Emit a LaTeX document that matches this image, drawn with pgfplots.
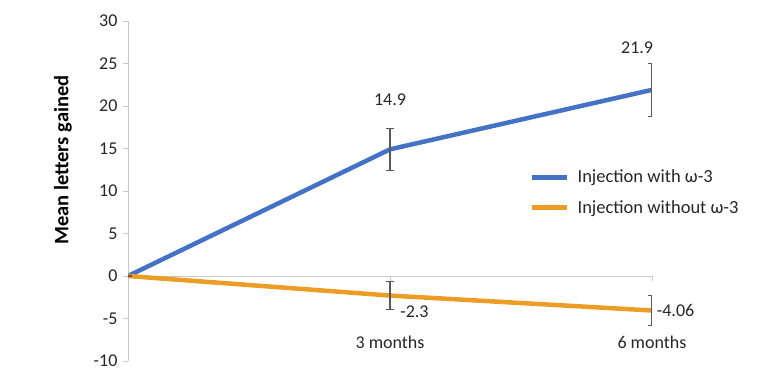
\documentclass[border=0pt]{standalone}
\usepackage{fontspec}
\setmainfont{Carlito}
\usepackage{pgfplots}
\pgfplotsset{compat=1.18}
\definecolor{myblue}{RGB}{68,114,196}
\definecolor{myorange}{RGB}{237,157,38}
\definecolor{axgray}{RGB}{200,200,200}
\definecolor{txt}{RGB}{38,38,38}
\definecolor{errgray}{RGB}{89,89,89}
\begin{document}
\begin{tikzpicture}
\begin{axis}[
  scale only axis, width=524pt, height=340pt,
  xmin=0, xmax=6, ymin=-10, ymax=30,
  axis x line=middle, axis y line=left,
  axis line style={-, axgray, line width=0.9pt},
  tick align=outside, major tick length=5pt,
  tick style={axgray, line width=0.9pt},
  ytick={-10,-5,...,30},
  xtick={3,6}, xticklabels={3 months,6 months},
  xticklabel style={yshift=-51pt},
  yticklabel style={xshift=-2pt},
  ticklabel style={font=\fontsize{18}{21}\selectfont, text=txt},
  /pgf/number format/assume math mode=true,
  ylabel={Mean letters gained},
  every axis y label/.style={at={(rel axis cs:-0.124,0.591)}, rotate=90, anchor=center,
    font=\fontsize{20.5}{24}\selectfont\bfseries, text=black},
  clip mode=individual,
  legend style={draw=none, fill=none, at={(rel axis cs:0.767,0.568)}, anchor=north west,
    font=\fontsize{18.5}{22}\selectfont, text=txt, row sep=12pt, inner sep=0pt},
  legend cell align=left,
  legend image code/.code={\draw[#1,line width=4.5pt] (0pt,0pt) -- (35pt,0pt);
    \path (41pt,0pt);},
]
\addplot[myblue, line width=4.5pt, no markers,
  error bars/.cd, y dir=both, y explicit,
  error bar style={errgray, line width=1.1pt},
  error mark options={rotate=90, mark size=4pt, errgray, line width=1.1pt}]
  coordinates {(0,0) +- (0,0) (3,14.9) +- (0,2.5) (6,21.9) +- (0,3.1)};
\addlegendentry{Injection with ω-3}
\addplot[myorange, line width=4.5pt, no markers,
  error bars/.cd, y dir=both, y explicit,
  error bar style={errgray, line width=1.1pt},
  error mark options={rotate=90, mark size=4pt, errgray, line width=1.1pt}]
  coordinates {(0,0) +- (0,0) (3,-2.3) +- (0,1.6) (6,-4.06) +- (0,1.8)};
\addlegendentry{Injection without ω-3}
\node[font=\fontsize{18}{21}\selectfont, text=txt] at (axis cs:3,20.7) {14.9};
\node[font=\fontsize{18}{21}\selectfont, text=txt] at (axis cs:5.83,26.9) {21.9};
\node[font=\fontsize{18}{21}\selectfont, text=txt] at (axis cs:3.28,-4.24) {-2.3};
\node[font=\fontsize{18}{21}\selectfont, text=txt] at (axis cs:6.27,-4.0) {-4.06};
\coordinate (tl) at (rel axis cs:-0.2443,1.0618);
\coordinate (br) at (rel axis cs:1.2214,-0.0765);
\end{axis}
\pgfresetboundingbox
\path (tl) rectangle (br);
\end{tikzpicture}
\end{document}
